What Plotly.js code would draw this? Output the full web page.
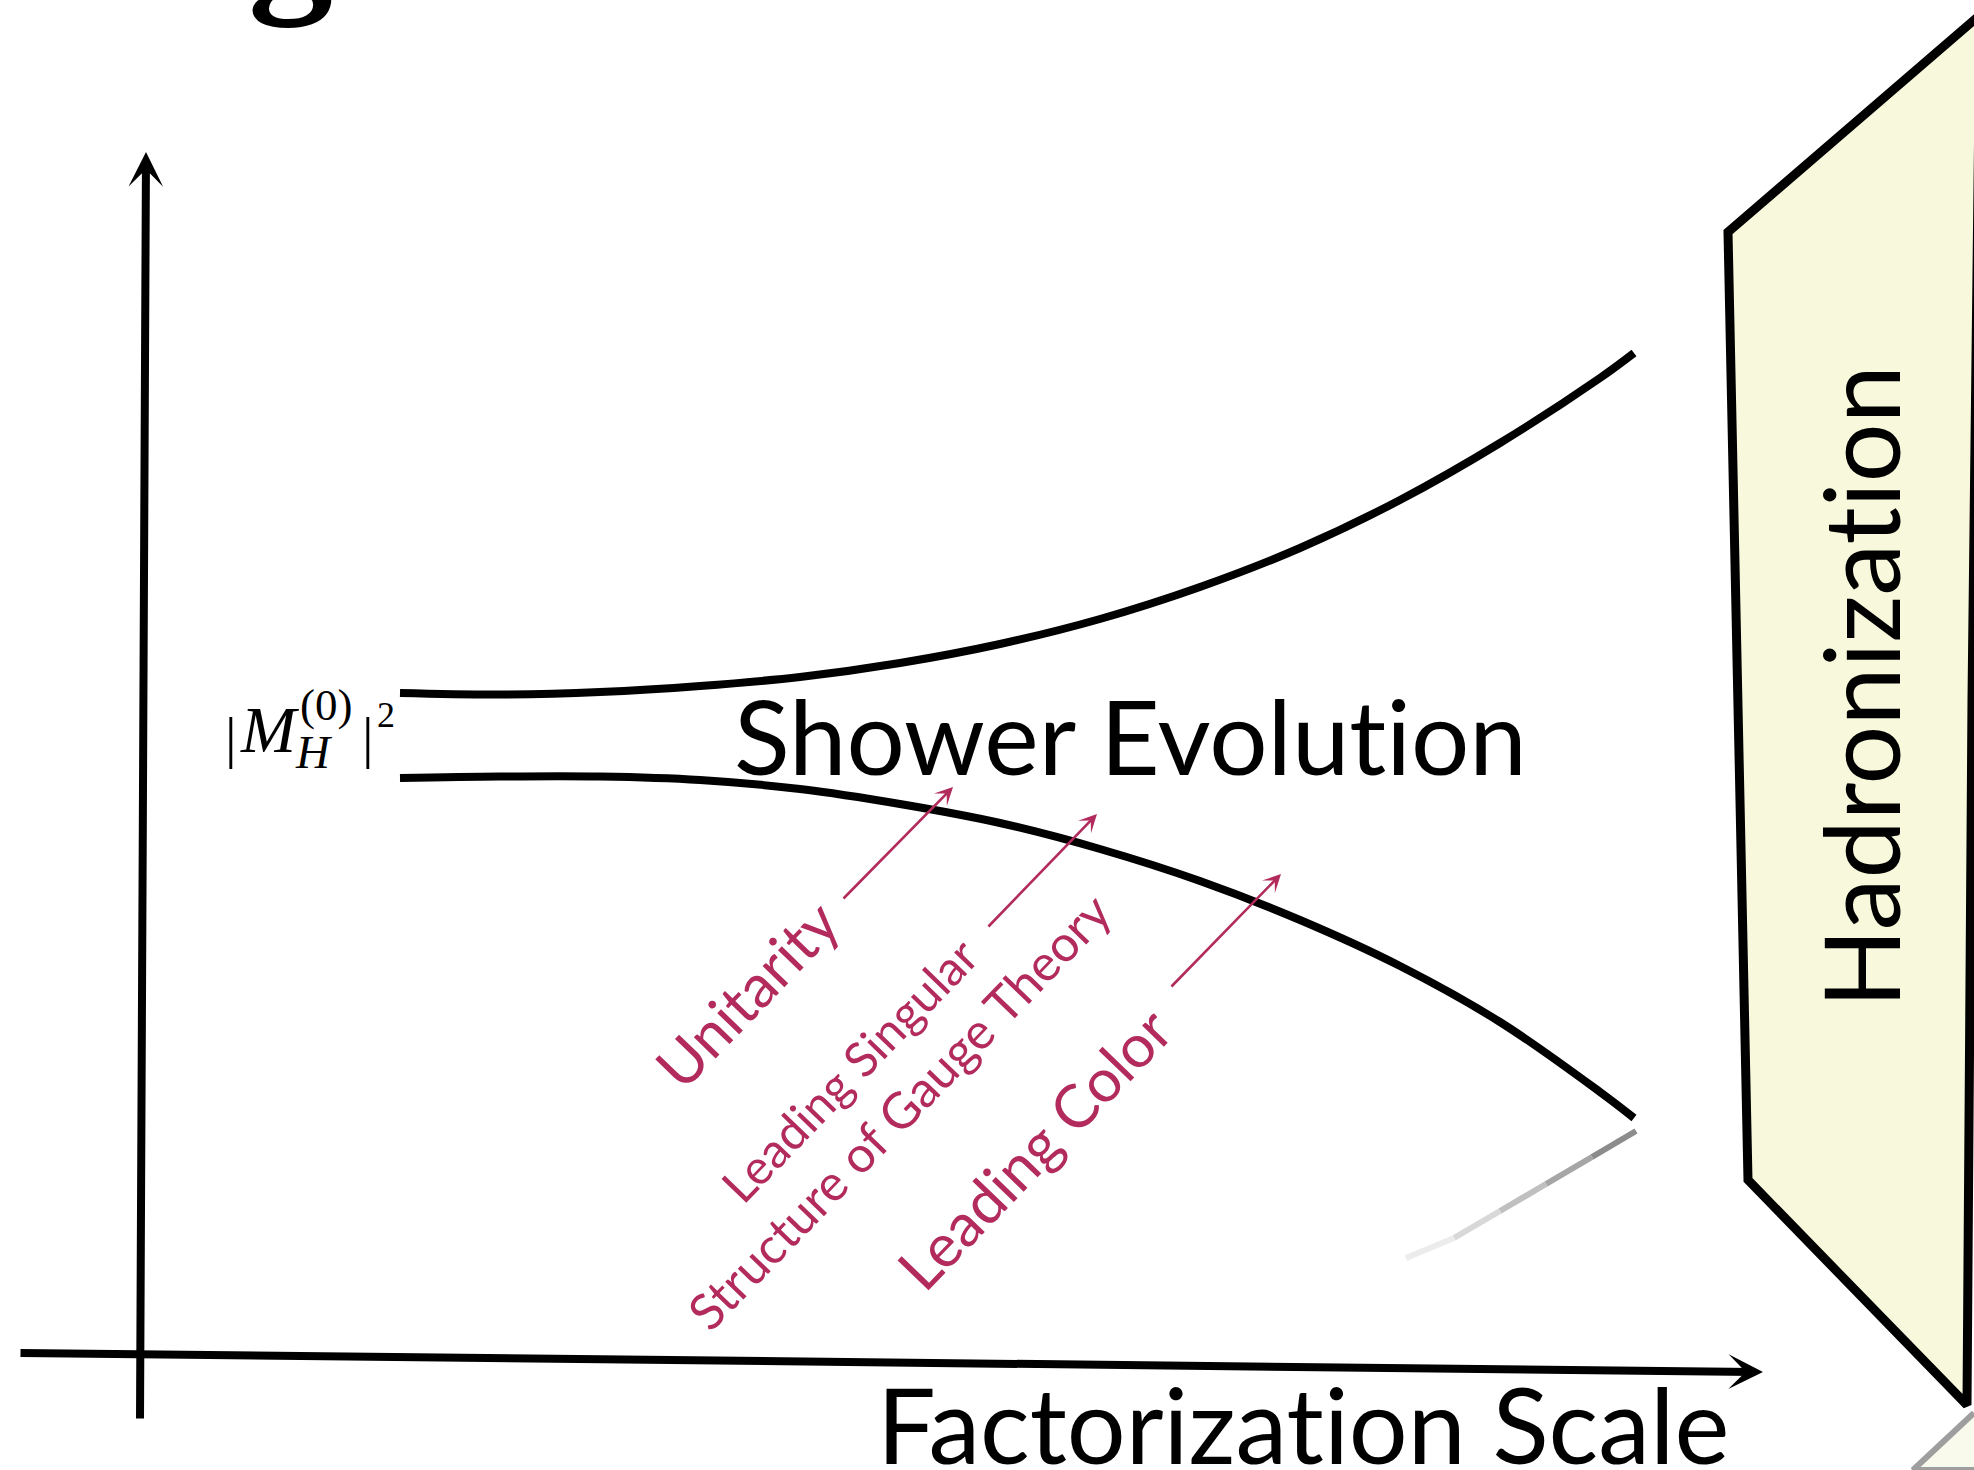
<!DOCTYPE html>
<html><head><meta charset="utf-8">
<script src="https://cdn.plot.ly/plotly-3.0.1.min.js"></script>
<style>html,body{margin:0;padding:0;background:#fff;overflow:hidden}#chart{width:1974px;height:1470px}
svg text{font-variant-ligatures:none;font-feature-settings:"liga" 0,"clig" 0,"dlig" 0}</style>
</head><body><div id="chart"></div>
<script>
// ---- curve data (diagram coordinates: x right, y down) ----
const upperX = [400, 500, 600, 700, 800, 900, 1000, 1100, 1200, 1300, 1400, 1500, 1600, 1634];
const upperY = [693, 694.5, 692, 686, 677, 663, 644, 619, 587, 548, 500, 443, 378, 353];
const lowerX = [400, 500, 600, 700, 800, 900, 1000, 1100, 1200, 1300, 1400, 1500, 1600, 1634];
const lowerY = [778, 776.5, 776.5, 780, 789, 804, 823, 849, 881, 920, 966, 1022, 1092, 1118];
const shadowX = [1636, 1592, 1546, 1500, 1454, 1406];
const shadowY = [1131, 1157, 1184, 1211, 1238, 1258];
const shadowColors = ['#8c8c8c', '#a6a6a6', '#c0c0c0', '#d8d8d8', '#ececec'];
const hadronX = [1980, 1728, 1748, 1967, 1972, 1980];
const hadronY = [15, 232, 1180, 1405, 700, 15];
const reflX = [1974, 1913, 1974];
const reflY = [1413, 1470, 1470];
// axes arrows: [tailX, tailY, headX, headY]
const axisArrows = [[140, 1420, 146, 152], [19, 1353, 1763, 1372]];
// annotation arrows: [tailX, tailY, headX, headY]
const pinkArrows = [[842, 900, 953, 787], [987, 928, 1097, 814], [1170, 988, 1281, 874]];
// rotated labels
const pinkLabels = ['Unitarity', 'Leading Singular', 'Structure of Gauge Theory', 'Leading Color'];
const pinkLabelX = [746, 849, 899, 1034];
const pinkLabelY = [994, 1069, 1111, 1148];
const pinkLabelSize = [60, 48, 50, 60];
const titleMain = 'Shower Evolution';
const xTitle = 'Factorization Scale';
const boxTitle = 'Hadronization';

const PINK = '#B22B5C';
const traces = [];
traces.push({x: hadronX, y: hadronY, mode: 'lines', fill: 'toself', fillcolor: '#F7F8DC',
  line: {color: '#000', width: 9}, hoverinfo: 'skip'});
traces.push({x: reflX, y: reflY, mode: 'lines', fill: 'toself', fillcolor: '#FAFAEC',
  line: {color: '#9e9e9e', width: 6}, hoverinfo: 'skip'});
for (let i = 0; i < shadowColors.length; i++) {
  traces.push({x: [shadowX[i], shadowX[i + 1]], y: [shadowY[i], shadowY[i + 1]], mode: 'lines',
    line: {color: shadowColors[i], width: 6}, hoverinfo: 'skip'});
}
traces.push({x: upperX, y: upperY, mode: 'lines', line: {color: '#000', width: 8, shape: 'spline', smoothing: 1}, hoverinfo: 'skip'});
traces.push({x: lowerX, y: lowerY, mode: 'lines', line: {color: '#000', width: 8, shape: 'spline', smoothing: 1}, hoverinfo: 'skip'});

const ann = [];
axisArrows.forEach(a => ann.push({x: a[2], y: a[3], ax: a[0], ay: a[1], xref: 'x', yref: 'y', axref: 'x', ayref: 'y',
  text: '', showarrow: true, arrowhead: 3, arrowsize: 0.72, arrowwidth: 8, arrowcolor: '#000', standoff: 0}));
pinkArrows.forEach(a => ann.push({x: a[2], y: a[3], ax: a[0], ay: a[1], xref: 'x', yref: 'y', axref: 'x', ayref: 'y',
  text: '', showarrow: true, arrowhead: 3, arrowsize: 1.15, arrowwidth: 2.6, arrowcolor: PINK, standoff: 0}));
pinkLabels.forEach((t, i) => ann.push({x: pinkLabelX[i], y: pinkLabelY[i], xref: 'x', yref: 'y', text: t,
  showarrow: false, textangle: -46, xanchor: 'center', yanchor: 'middle',
  font: {family: 'Lato', size: pinkLabelSize[i], color: PINK}}));
ann.push({x: 1130, y: 735, xref: 'x', yref: 'y', text: titleMain, showarrow: false, xanchor: 'center', yanchor: 'middle',
  font: {family: 'Lato', size: 103, color: '#000'}});
ann.push({x: 1303, y: 1423, xref: 'x', yref: 'y', text: xTitle, showarrow: false, xanchor: 'center', yanchor: 'middle',
  font: {family: 'Lato', size: 104, color: '#000'}});
ann.push({x: 1859, y: 687, xref: 'x', yref: 'y', text: boxTitle, showarrow: false, textangle: -90, xanchor: 'center', yanchor: 'middle',
  font: {family: 'Lato', size: 104, color: '#000'}});
// |M_H^(0)|^2 pieces
const serif = 'Liberation Serif';
ann.push({x: 231, y: 737, xref: 'x', yref: 'y', text: '|', showarrow: false, xanchor: 'center', yanchor: 'middle', font: {family: serif, size: 58, color: '#000'}});
ann.push({x: 270, y: 729, xref: 'x', yref: 'y', text: '<i>M</i>', showarrow: false, xanchor: 'center', yanchor: 'middle', font: {family: serif, size: 66, color: '#000'}});
ann.push({x: 326, y: 705, xref: 'x', yref: 'y', text: '(0)', showarrow: false, xanchor: 'center', yanchor: 'middle', font: {family: serif, size: 45, color: '#000'}});
ann.push({x: 314, y: 752, xref: 'x', yref: 'y', text: '<i>H</i>', showarrow: false, xanchor: 'center', yanchor: 'middle', font: {family: serif, size: 47, color: '#000'}});
ann.push({x: 368, y: 737, xref: 'x', yref: 'y', text: '|', showarrow: false, xanchor: 'center', yanchor: 'middle', font: {family: serif, size: 58, color: '#000'}});
ann.push({x: 386, y: 715, xref: 'x', yref: 'y', text: '2', showarrow: false, xanchor: 'center', yanchor: 'middle', font: {family: serif, size: 36, color: '#000'}});
// cut-off title glyph at the top edge
ann.push({x: 290, y: 1 + 66 / 1470, xref: 'x', yref: 'paper', text: '<b>g</b>', showarrow: false, xanchor: 'center', yanchor: 'middle', font: {family: serif, size: 170, color: '#000'}});

const layout = {
  width: 1974, height: 1470, margin: {l: 0, r: 0, t: 0, b: 0, pad: 0},
  paper_bgcolor: '#fff', plot_bgcolor: '#fff', showlegend: false,
  xaxis: {range: [0, 1974], visible: false, fixedrange: true},
  yaxis: {range: [1470, 0], visible: false, fixedrange: true},
  annotations: ann
};
Plotly.newPlot('chart', traces, layout, {staticPlot: true, displayModeBar: false});
</script></body></html>
